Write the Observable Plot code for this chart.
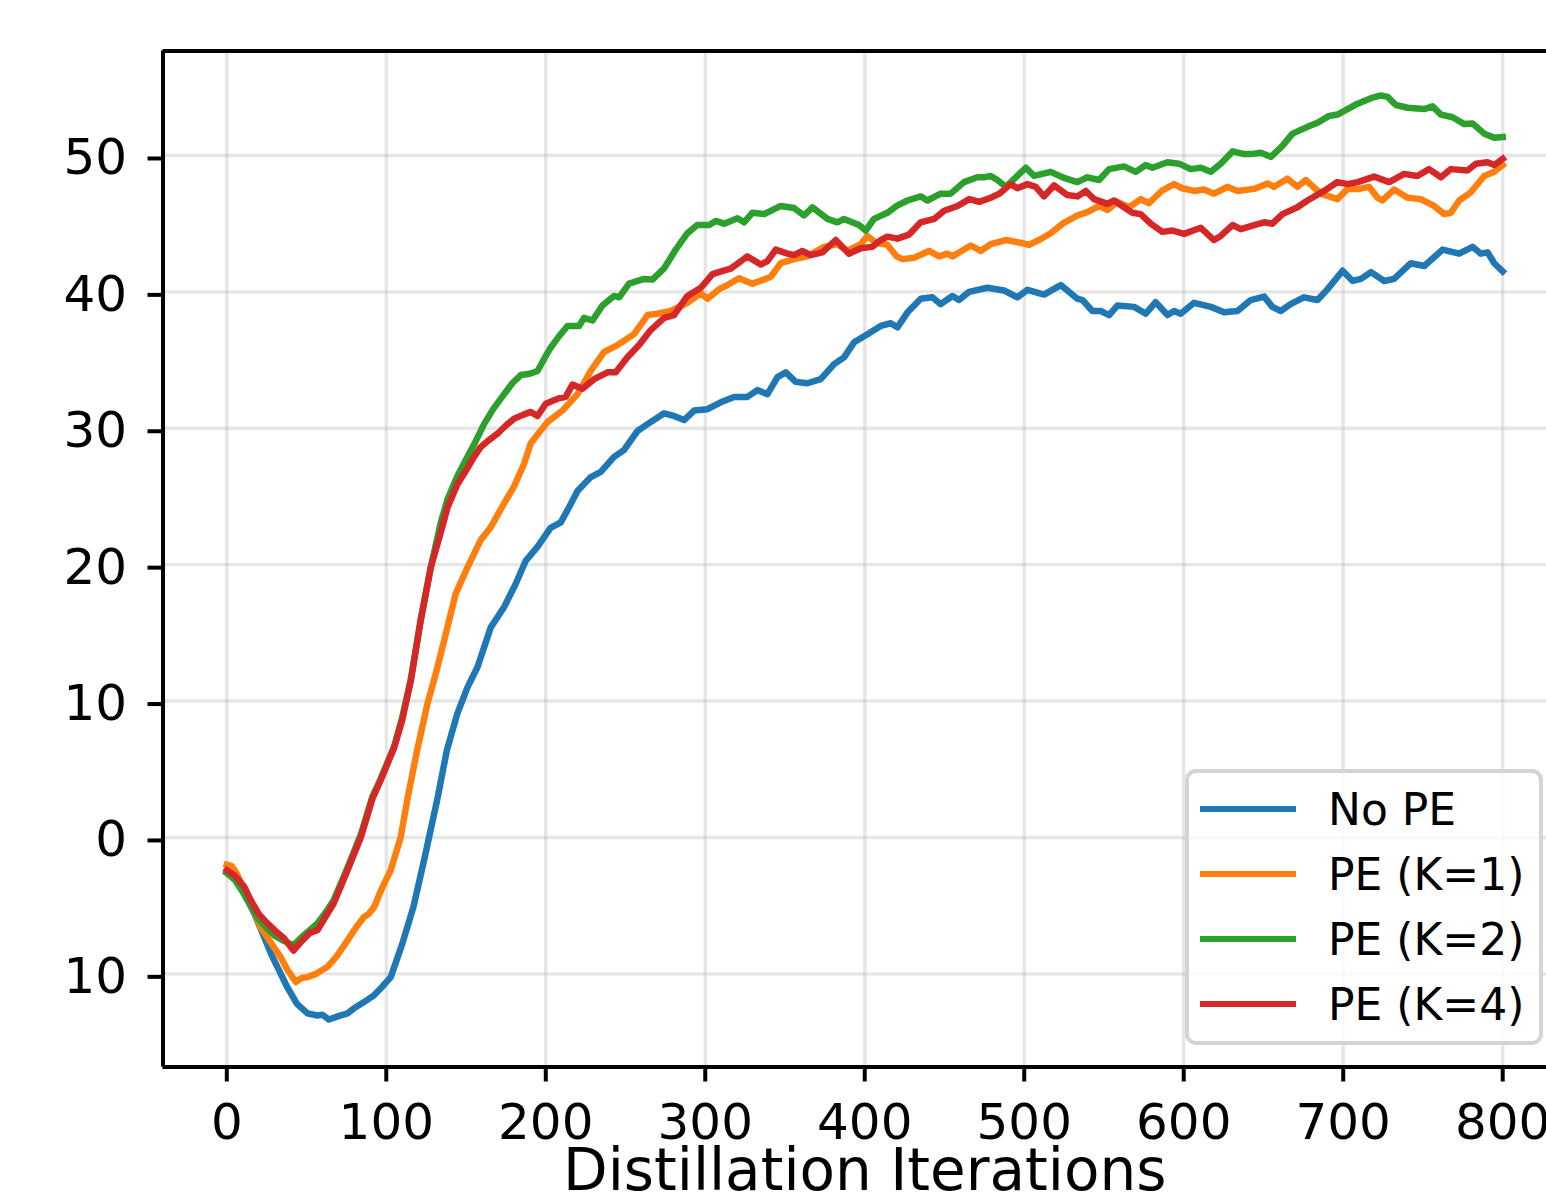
<!DOCTYPE html>
<html>
<head>
<meta charset="utf-8">
<script src="https://cdn.jsdelivr.net/npm/d3@7"></script>
<script src="https://cdn.jsdelivr.net/npm/@observablehq/plot@0.6"></script>
<style>
  html, body { margin: 0; padding: 0; background: #fff; overflow: hidden; }
  #wrap { position: relative; width: 1546px; height: 1197px; font-family: "DejaVu Sans", sans-serif; }
  #legend { position: absolute; left: 1185px; top: 769px; width: 350px; height: 268px;
    border: 4px solid rgba(204,204,204,0.85); border-radius: 11px; background: rgba(255,255,255,0.8); }
  .entry { position: absolute; left: 0; height: 60px; width: 350px; }
  .swatch { position: absolute; left: 11px; width: 96px; height: 6.5px; }
  .lab { position: absolute; left: 139px; font-size: 44px; line-height: 44px; color: #000; white-space: nowrap; }
</style>
</head>
<body>
<div id="wrap"></div>
<script>
// ---- data ----
const seriesNames = ["No PE", "PE (K=1)", "PE (K=2)", "PE (K=4)"];
const seriesColors = ["#1f77b4", "#ff7f0e", "#2ca02c", "#d62728"];
const xTicks = [0, 100, 200, 300, 400, 500, 600, 700, 800];
const yTicks = [-10, 0, 10, 20, 30, 40, 50];
const yTickLabels = ["10", "0", "10", "20", "30", "40", "50"];
const xLabel = "Distillation Iterations";

const noPE = [[0,-2.6],[5,-3.0],[10,-3.9],[17,-5.5],[22,-6.9],[27.6,-8.5],[33,-9.8],[38,-11.0],[44,-12.2],[50.6,-12.9],[56.8,-13.05],[60,-13.0],[64,-13.35],[70,-13.1],[75.7,-12.9],[80,-12.5],[86,-12.07],[92,-11.6],[97,-11.0],[102.8,-10.24],[110,-7.8],[117,-5.1],[124,-1.5],[132,2.8],[138,6.4],[144.6,9.1],[150.9,11.0],[157.2,12.5],[165.5,15.4],[173.9,16.9],[181.2,18.6],[187.5,20.3],[194.8,21.3],[203,22.7],[209.4,23.1],[215,24.3],[219.9,25.4],[228,26.4],[234.5,26.8],[242.8,27.9],[249,28.4],[257.5,29.8],[263.8,30.3],[274.2,31.1],[280.4,30.9],[286.7,30.6],[293,31.3],[301.4,31.4],[309.7,31.9],[318,32.3],[326.4,32.3],[332.7,32.8],[339,32.5],[345.3,33.75],[350.5,34.1],[356.7,33.4],[364,33.3],[372.4,33.6],[380.8,34.7],[387,35.2],[393.3,36.3],[401.7,36.9],[410,37.5],[416.3,37.7],[420.5,37.4],[426.8,38.5],[435.1,39.5],[442.4,39.6],[447.6,39.1],[455,39.7],[459.1,39.4],[465.4,40.0],[476.9,40.3],[487.3,40.1],[495.7,39.6],[502,40.15],[512.4,39.8],[522.9,40.5],[533.3,39.5],[536.5,39.4],[542.7,38.6],[548,38.6],[553.2,38.3],[558.4,39.0],[568.9,38.9],[576.2,38.4],[582.4,39.25],[589.8,38.3],[594,38.6],[598.1,38.4],[606.5,39.2],[617,38.9],[625.3,38.5],[633.7,38.6],[642,39.4],[650.4,39.65],[655.6,38.9],[660.8,38.6],[667,39.1],[675.3,39.6],[683.9,39.4],[690.2,40.2],[699.6,41.55],[705.9,40.8],[711.1,40.95],[717.4,41.45],[725.7,40.8],[731.9,40.95],[742.4,42.1],[750.8,41.9],[762.3,43.1],[772.7,42.8],[781.1,43.3],[786.3,42.8],[790.5,42.9],[794.7,42.1],[800,41.5]];

const peK1 = [[0,-2.0],[3,-2.1],[6,-2.6],[10,-3.6],[15,-4.8],[21.3,-6.6],[27,-7.6],[33.9,-8.8],[38,-9.7],[43.3,-10.6],[47,-10.3],[50.6,-10.24],[56,-10.0],[63,-9.5],[69,-8.7],[75.7,-7.55],[81,-6.6],[86,-5.84],[89,-5.6],[92.4,-5.1],[97,-3.8],[102.8,-2.4],[109,0],[113.3,2.84],[119,6.2],[125.8,9.8],[131,12.0],[136.2,14.4],[143.6,17.9],[150.9,19.8],[159.2,21.8],[165.5,22.75],[173.9,24.5],[180,25.7],[186.4,27.4],[190.6,28.9],[196,29.7],[201,30.45],[210.5,31.3],[219.9,32.5],[228.2,34.2],[236.6,35.6],[245,36.1],[255.4,36.9],[263.8,38.3],[270,38.4],[278.4,38.6],[288.8,39.2],[297.2,39.9],[301.4,39.5],[308.7,40.2],[313.9,40.5],[321.2,41.0],[329.6,40.6],[336.9,40.9],[341,41.1],[347.3,42.1],[355.7,42.4],[364,42.6],[374.5,43.3],[382.9,43.5],[389,43.0],[397.5,43.5],[401.7,44.1],[407,43.6],[414.2,43.45],[420,42.6],[423.6,42.4],[431,42.5],[440.4,43.0],[446.7,42.6],[451.9,42.8],[455,42.6],[466.5,43.4],[472.7,43.0],[479,43.5],[488.4,43.8],[497.8,43.6],[503,43.45],[509.3,43.8],[516.6,44.3],[524,45.0],[533.3,45.6],[539.6,45.85],[546.9,46.3],[552.2,46.0],[558.4,46.6],[565.7,46.2],[573,46.8],[578.2,46.5],[586.6,47.45],[593.9,47.9],[599.1,47.6],[606.5,47.4],[612.7,47.5],[619,47.2],[627.4,47.7],[633.7,47.4],[644.2,47.55],[652.5,47.95],[656.6,47.7],[665,48.3],[671.3,47.7],[676.5,48.2],[685.9,47.2],[696.4,46.8],[702.7,47.55],[710,47.55],[716.2,47.7],[721.5,46.9],[724.6,46.7],[731.9,47.5],[740.4,46.9],[748.6,46.8],[757,46.3],[763.3,45.7],[767.5,45.8],[772.7,46.7],[780,47.3],[788.4,48.5],[794.7,48.8],[800,49.3]];

const peK2 = [[0,-2.6],[5,-3.1],[10,-4.0],[15,-5.0],[20,-6.0],[25.5,-6.7],[30,-7.2],[36,-7.6],[41.8,-7.9],[47,-7.3],[52,-6.8],[56.8,-6.3],[62,-5.5],[67,-4.6],[75,-2.4],[84,0.2],[91.3,3.0],[96.5,4.3],[105,6.7],[110,8.8],[115.4,11.6],[121.6,16.0],[127.9,19.8],[134,23.0],[138.4,24.8],[144.6,26.5],[150,27.7],[155,28.8],[161.3,30.3],[167,31.4],[173.9,32.5],[179,33.3],[184.3,33.9],[190,34.0],[194.8,34.2],[200,35.3],[203,35.9],[208,36.7],[213.6,37.5],[220.9,37.5],[224,38.1],[229.3,37.9],[235.5,39.0],[242.8,39.7],[246,39.6],[252.2,40.6],[261.6,40.95],[266.9,40.9],[274,41.7],[281.5,43.1],[288.8,44.3],[295,44.9],[302.4,44.9],[306.6,45.2],[311.8,45.0],[320.2,45.4],[324.3,45.1],[329.6,45.8],[336.9,45.7],[347.3,46.3],[355.7,46.15],[361.9,45.6],[367.2,46.2],[376.6,45.35],[382.9,45.1],[387,45.35],[396.4,44.9],[400.6,44.5],[405.8,45.35],[414.2,45.8],[420,46.3],[426.8,46.7],[435.1,47.0],[439.3,46.7],[447.6,47.2],[453.9,47.2],[462.2,48.05],[470.6,48.4],[474.8,48.4],[479,48.5],[483.2,48.2],[488.4,47.7],[494.7,48.4],[501,49.1],[506.2,48.5],[516.6,48.8],[524,48.4],[533.3,48.05],[539.6,48.4],[546.9,48.2],[553.2,49.0],[562.6,49.2],[569.9,48.8],[576.2,49.3],[580.4,49.1],[589.8,49.5],[597.1,49.4],[604.4,49.0],[610.7,49.1],[617,48.8],[623.2,49.4],[630.6,50.3],[637.9,50.1],[642,50.1],[648.3,50.2],[654.6,49.9],[661.9,50.7],[668.2,51.6],[677.6,52.1],[683.9,52.4],[691.2,52.9],[696.4,53.0],[702.7,53.4],[709,53.8],[717.4,54.2],[723.6,54.4],[727.8,54.3],[733,53.7],[740.4,53.5],[750.8,53.4],[756,53.6],[761.3,53.0],[768.6,52.8],[775.9,52.3],[781.1,52.35],[788.4,51.6],[794.7,51.3],[800,51.35]];

const peK4 = [[0,-2.4],[5,-2.8],[10.9,-3.6],[15,-4.6],[20,-5.6],[25.5,-6.3],[30,-6.8],[36,-7.4],[41.8,-8.3],[47,-7.6],[52,-7.0],[56.8,-6.8],[62,-5.8],[67,-4.84],[75,-2.6],[84,0],[91.3,2.84],[96.5,4.2],[105,6.6],[110,8.6],[115.4,11.5],[121.6,15.9],[127.9,19.8],[134,22.3],[138.4,24.2],[144.6,25.9],[150,26.9],[155,27.9],[159,28.6],[164,29.1],[169.7,29.6],[175,30.2],[180.1,30.7],[186,31.0],[190.6,31.2],[194.8,30.9],[200,31.8],[204,32.0],[208.3,32.2],[212.5,32.3],[216.7,33.2],[223,32.9],[230.3,33.6],[238.7,34.1],[243.9,34.1],[251.2,35.2],[258.5,36.1],[265.8,37.2],[274.2,38.1],[280.4,38.3],[288.8,39.7],[297.2,40.3],[304.5,41.3],[310,41.5],[316,41.7],[326.4,42.6],[334.8,42.0],[339,42.25],[344.2,43.1],[351.5,42.8],[355.7,42.7],[360.9,43.0],[366.1,42.7],[373.4,42.9],[381.8,43.8],[390.1,42.8],[397.5,43.2],[404.8,43.3],[410,43.8],[414.2,44.05],[420.5,43.9],[427.8,44.2],[435.1,45.1],[443.5,45.35],[449.8,45.95],[458.2,46.3],[465.5,46.8],[471.8,46.6],[479,46.9],[484.4,47.2],[491.5,47.9],[495.7,47.6],[502,47.9],[507.2,47.7],[512.4,47.0],[518.7,47.8],[527,47.1],[533.3,47.0],[538.6,47.4],[543.8,46.8],[552.2,46.45],[556.3,46.7],[562.6,46.2],[567.8,45.8],[573,45.7],[579.3,45.0],[586.6,44.4],[592.9,44.5],[600.2,44.25],[610.7,44.7],[619,43.8],[623.2,44.1],[630.6,44.9],[635.8,44.6],[644.2,44.9],[650.4,45.1],[655.6,45.0],[661.9,45.7],[671.3,46.2],[677.6,46.7],[688,47.4],[696.4,48.05],[702.7,47.9],[709,48.05],[719.4,48.45],[728.8,48.05],[738.2,48.65],[746.5,48.5],[753.8,49.0],[761.3,48.4],[767.5,49.0],[777.9,48.9],[783.2,49.4],[790.5,49.5],[794.7,49.3],[800,49.75]];

const seriesData = [noPE, peK1, peK2, peK4];

// ---- chart ----
const xDomain = [-40, 840];
const yDomain = [-16.83, 57.66];
const font = "DejaVu Sans";

const lineMarks = seriesData.map((d, i) =>
  Plot.line(d, {x: p => p[0], y: p => p[1], stroke: seriesColors[i], strokeWidth: 6.5,
    strokeLinejoin: "round", strokeLinecap: "square"}));

const chart = Plot.plot({
  width: 1546,
  height: 1197,
  marginLeft: 162.5,
  marginRight: -20,
  marginTop: 50.5,
  marginBottom: 130.5,
  style: {fontFamily: font, fontSize: "50px", background: "white", color: "black", overflow: "hidden"},
  x: {domain: xDomain},
  y: {domain: yDomain},
  marks: [
    Plot.gridX(xTicks, {stroke: "#b0b0b0", strokeOpacity: 0.32, strokeWidth: 3.4}),
    Plot.gridY(yTicks, {stroke: "#b0b0b0", strokeOpacity: 0.32, strokeWidth: 3.4}),
    ...lineMarks,
    Plot.ruleX([xDomain[0]], {stroke: "black", strokeWidth: 4}),
    Plot.ruleY([yDomain[0]], {stroke: "black", strokeWidth: 4}),
    Plot.ruleY([yDomain[1]], {stroke: "black", strokeWidth: 4}),
    Plot.axisX(xTicks, {anchor: "bottom", tickSize: 15, tickPadding: 21, strokeWidth: 4,
      fontSize: 50, fontFamily: font, label: null}),
    Plot.axisX([], {anchor: "bottom", tickSize: 0, label: xLabel, labelAnchor: "center",
      labelArrow: "none", labelOffset: 123, fontSize: 58, fontFamily: font}),
    Plot.axisY(yTicks, {anchor: "left", tickSize: 15, tickPadding: 21, strokeWidth: 4,
      fontSize: 50, fontFamily: font, label: null, dy: 3,
      tickFormat: (d) => yTickLabels[yTicks.indexOf(d)]})
  ]
});

const wrap = document.getElementById("wrap");
wrap.appendChild(chart);

// legend
const legend = document.createElement("div");
legend.id = "legend";
seriesNames.forEach((name, i) => {
  const e = document.createElement("div");
  e.className = "entry";
  e.style.top = (6 + i * 65) + "px";
  const sw = document.createElement("div");
  sw.className = "swatch";
  sw.style.background = seriesColors[i];
  sw.style.top = "26.75px";
  const lab = document.createElement("div");
  lab.className = "lab";
  lab.textContent = name;
  lab.style.top = "9px";
  e.appendChild(sw);
  e.appendChild(lab);
  legend.appendChild(e);
});
wrap.appendChild(legend);
</script>
</body>
</html>
